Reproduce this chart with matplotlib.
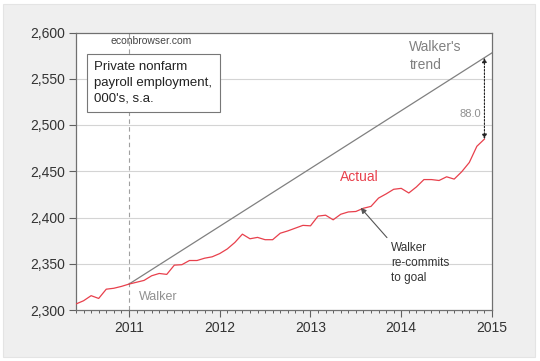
import numpy as np
import matplotlib
matplotlib.use('Agg')
import matplotlib.pyplot as plt
from matplotlib.patches import Rectangle

# private nonfarm payroll employment, monthly, 2010M06 - 2014M12 (000's, s.a.)
start_year = 2010
start_month = 6
actual = [2306.5, 2310, 2315.5, 2312.5, 2322.5, 2323.5, 2325.5,
          2328, 2330, 2332, 2337, 2339.5, 2338.5, 2348.5, 2349, 2353.5, 2353.5, 2356, 2357.5,
          2361, 2366, 2373, 2382, 2377, 2378.5, 2376, 2376, 2383, 2385.5, 2388.5, 2391.5,
          2391, 2401.5, 2402.5, 2397.5, 2403.5, 2406, 2406.5, 2410, 2412, 2421, 2425.5, 2430.5,
          2431.5, 2426.5, 2433, 2441, 2441, 2440, 2444, 2441.5, 2449.5, 2459.5, 2477, 2484.8]

# Walker's trend: 250k jobs over 4 years, starting 2011M01
trend_start = 2328
trend_gain = 250
trend_months = 48
gap = 88.0

yticks = [2300, 2350, 2400, 2450, 2500, 2550, 2600]
years = [2011, 2012, 2013, 2014, 2015]

t = start_year + (start_month - 1) / 12 + np.arange(len(actual)) / 12
t_trend = 2011 + np.arange(trend_months + 1) / 12
trend = trend_start + trend_gain * np.arange(trend_months + 1) / trend_months

plt.rcParams['font.family'] = ['Liberation Sans', 'DejaVu Sans']

fig = plt.figure(figsize=(5.4, 3.61), dpi=100)
fig.patches.append(Rectangle((3 / 540, 4 / 361), 532 / 540, 353 / 361, transform=fig.transFigure,
                             facecolor='#efefef', edgecolor='#e4e4e4', lw=0.8, zorder=-10))
ax = fig.add_axes([76 / 540, 1 - 310 / 361, 416 / 540, 277.5 / 361])

ax.set_xlim(2010 + 5 / 12, 2015)
ax.set_ylim(2300, 2600)

for v in yticks[1:-1]:
    ax.axhline(v, color='#d4d4d4', lw=0.8, zorder=1)
ax.axvline(2011, color='#a0a0a0', lw=0.8, ls=(0, (4, 3)), zorder=1)

ax.plot(t_trend, trend, color='#808080', lw=0.9, zorder=2)
ax.plot(t, actual, color='#e8404c', lw=0.9, zorder=3)

ax.set_yticks(yticks)
ax.set_yticklabels(['{:,}'.format(v) for v in yticks])
ax.set_xticks(years)
ax.set_xticks(2010 + 5 / 12 + np.arange(0, 56) / 12, minor=True)
ax.tick_params(axis='both', which='major', direction='out', length=5, width=0.8,
               color='#606060', labelsize=10, labelcolor='#333333', pad=3)
ax.tick_params(axis='x', which='minor', direction='out', length=2.5, width=0.7, color='#606060')
for s in ax.spines.values():
    s.set_color('#707070')
    s.set_linewidth(0.9)

# annotations
ax.text(2011.24, 2596, 'econbrowser.com', fontsize=7.5, color='#444444', ha='center', va='top')
ax.text(2010.62, 2569, "Private nonfarm\npayroll employment,\n000's, s.a.", fontsize=9.5,
        color='#222222', va='top', ha='left', linespacing=1.4,
        bbox=dict(boxstyle='square,pad=0.55', facecolor='white', edgecolor='#777777', lw=0.8))
ax.text(2014.09, 2592, "Walker's\ntrend", fontsize=10, color='#808080', va='top', linespacing=1.35)
last_t = t[-1]
ax.annotate('', xy=(last_t, trend_start + trend_gain * 47 / 48), xytext=(last_t, actual[-1]),
            arrowprops=dict(arrowstyle='<|-|>', ls=(0, (1.5, 1.5)), color='#222222', lw=0.8,
                            mutation_scale=7, shrinkA=0, shrinkB=0))
ax.text(last_t - 0.04, 2512, '{:.1f}'.format(gap), fontsize=8, color='#909090', ha='right', va='center')
ax.text(2013.32, 2444, 'Actual', fontsize=10, color='#e8404c', ha='left', va='center')
ax.text(2011.11, 2314, 'Walker', fontsize=9, color='#909090', ha='left', va='center')
ax.annotate('Walker\nre-commits\nto goal', xy=(t[38] - 0.03, actual[38] + 0.5), xytext=(2013.89, 2373),
            fontsize=8.5, color='#333333', va='top', ha='left', linespacing=1.3,
            arrowprops=dict(arrowstyle='-|>', color='#555555', lw=0.8, mutation_scale=8,
                            shrinkA=2, shrinkB=0, relpos=(0, 1)))

fig.savefig('out.png', dpi=100)
